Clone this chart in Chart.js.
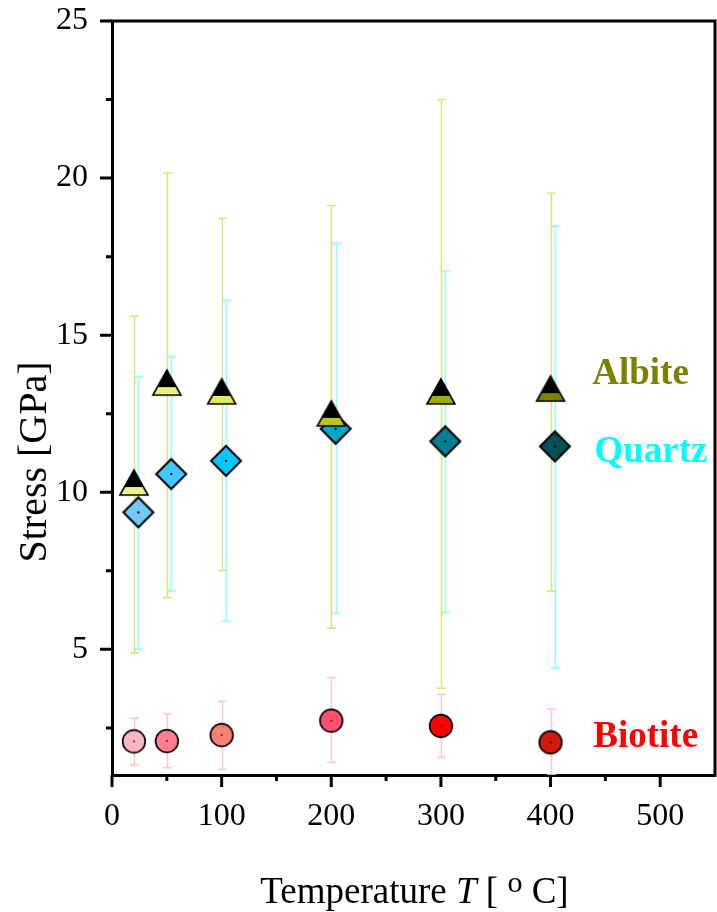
<!DOCTYPE html>
<html>
<head>
<meta charset="utf-8">
<title>Stress vs Temperature</title>
<script src="https://cdn.jsdelivr.net/npm/chart.js@4.4.0/dist/chart.umd.min.js"></script>
<style>
  html, body { margin: 0; padding: 0; background: #ffffff; }
  canvas { display: block; }
</style>
</head>
<body>
<canvas id="chart" width="717" height="912"></canvas>
<script>
// ---- data ----
const albiteT      = [20, 50, 100, 200, 300, 400];
const albiteStress = [10.31, 13.49, 13.21, 12.51, 13.21, 13.30];
const albiteLow    = [4.88, 6.65, 7.51, 5.67, 3.76, 6.85];
const albiteHigh   = [15.60, 20.16, 18.71, 19.13, 22.50, 19.52];

const quartzT      = [24, 54, 104, 204, 304, 404];
const quartzStress = [9.36, 10.58, 11.00, 12.02, 11.62, 11.46];
const quartzLow    = [5.00, 6.87, 5.89, 6.14, 6.17, 4.40];
const quartzHigh   = [13.69, 14.32, 16.10, 17.92, 17.03, 18.47];

const biotiteT      = [20, 50, 100, 200, 300, 400];
const biotiteStress = [2.07, 2.08, 2.27, 2.73, 2.56, 2.04];
const biotiteLow    = [1.33, 1.23, 1.18, 1.40, 1.56, 1.01];
const biotiteHigh   = [2.81, 2.95, 3.35, 4.10, 3.56, 3.10];

const albiteColors  = ['#eef08e', '#ebf088', '#e0ec5c', '#b8c81e', '#a0ac0c', '#808000'];
const quartzColors  = ['#72c8f8', '#40c8ff', '#00c8ff', '#00a8c8', '#008090', '#005058'];
const biotiteColors = ['#ffb6c1', '#ff7f91', '#fa8072', '#ff5070', '#ff0000', '#d21a0a'];

const xMajorTicks = [0, 100, 200, 300, 400, 500];
const xMinorTicks = [50, 150, 250, 350, 450];
const yMajorTicks = [5, 10, 15, 20, 25];
const yMinorTicks = [2.5, 7.5, 12.5, 17.5, 22.5];

const SERIF = "'Liberation Serif', 'Times New Roman', serif";

// ---- marker images ----
function triangleMarker(fill) {
  const c = document.createElement('canvas');
  c.width = 32; c.height = 29;
  const g = c.getContext('2d');
  const path = () => { g.beginPath(); g.moveTo(16, 2); g.lineTo(30, 27); g.lineTo(2, 27); g.closePath(); };
  g.save(); path(); g.clip();
  g.fillStyle = '#000000'; g.fillRect(0, 0, 32, 19);
  g.fillStyle = fill; g.fillRect(0, 19, 32, 10);
  g.restore();
  path(); g.lineWidth = 1.6; g.lineJoin = 'miter'; g.strokeStyle = '#000000'; g.stroke();
  return c;
}
function diamondMarker(fill) {
  const c = document.createElement('canvas');
  c.width = 34; c.height = 34;
  const g = c.getContext('2d');
  g.beginPath(); g.moveTo(17, 2); g.lineTo(32, 17); g.lineTo(17, 32); g.lineTo(2, 17); g.closePath();
  g.fillStyle = fill; g.fill();
  g.lineWidth = 2; g.strokeStyle = '#000000'; g.stroke();
  g.fillStyle = '#000000'; g.fillRect(16, 16, 2, 2);
  return c;
}
function circleMarker(fill) {
  const c = document.createElement('canvas');
  c.width = 28; c.height = 28;
  const g = c.getContext('2d');
  g.beginPath(); g.arc(14, 14, 11.3, 0, Math.PI * 2);
  g.fillStyle = fill; g.fill();
  g.lineWidth = 1.7; g.strokeStyle = '#000000'; g.stroke();
  g.fillStyle = '#000000'; g.fillRect(13.25, 13.25, 1.5, 1.5);
  return c;
}

function points(xs, ys, lows, highs) {
  return xs.map((x, i) => ({ x: x, y: ys[i], low: lows[i], high: highs[i] }));
}

// ---- plugins ----
const errorBars = {
  id: 'errorBars',
  beforeDatasetsDraw(chart) {
    const ctx = chart.ctx, xs = chart.scales.x, ys = chart.scales.y;
    const area = chart.chartArea;
    ctx.save();
    ctx.beginPath();
    ctx.rect(area.left, area.top, area.right - area.left, area.bottom - area.top);
    ctx.clip();
    // quartz first, then albite, then biotite
    [1, 0, 2].forEach(di => {
      const ds = chart.data.datasets[di];
      ctx.strokeStyle = ds.errorColor;
      ctx.lineWidth = ds.errorWidth;
      ds.data.forEach(p => {
        const px = Math.round(xs.getPixelForValue(p.x)) + 0.5;
        const top = ys.getPixelForValue(p.high);
        const bot = ys.getPixelForValue(p.low);
        ctx.beginPath();
        ctx.moveTo(px, top); ctx.lineTo(px, bot);
        ctx.moveTo(px - 4.5, top); ctx.lineTo(px + 4.5, top);
        ctx.moveTo(px - 4.5, bot); ctx.lineTo(px + 4.5, bot);
        ctx.stroke();
      });
    });
    ctx.restore();
  }
};

const frameAndText = {
  id: 'frameAndText',
  afterDraw(chart) {
    const ctx = chart.ctx, xs = chart.scales.x, ys = chart.scales.y;
    const a = chart.chartArea;
    ctx.save();
    ctx.strokeStyle = '#000000';
    ctx.lineWidth = 3;
    // top and right frame lines
    ctx.beginPath();
    ctx.moveTo(a.left - 1.5, a.top); ctx.lineTo(a.right + 1.5, a.top);
    ctx.moveTo(a.right, a.top); ctx.lineTo(a.right, a.bottom + 1.5);
    ctx.stroke();
    // tick marks (outward)
    ctx.beginPath();
    xMajorTicks.forEach(v => { const p = xs.getPixelForValue(v); ctx.moveTo(p, a.bottom); ctx.lineTo(p, a.bottom + 12); });
    xMinorTicks.forEach(v => { const p = xs.getPixelForValue(v); ctx.moveTo(p, a.bottom); ctx.lineTo(p, a.bottom + 6); });
    yMajorTicks.forEach(v => { const p = ys.getPixelForValue(v); ctx.moveTo(a.left, p); ctx.lineTo(a.left - 12, p); });
    yMinorTicks.forEach(v => { const p = ys.getPixelForValue(v); ctx.moveTo(a.left, p); ctx.lineTo(a.left - 6, p); });
    ctx.stroke();

    // series names
    ctx.font = 'bold 37px ' + SERIF;
    ctx.textAlign = 'left';
    ctx.textBaseline = 'alphabetic';
    const names = [
      { text: 'Albite',  color: '#808000', x: 438, y: 13.46 },
      { text: 'Quartz',  color: '#00ffff', x: 440, y: 10.96 },
      { text: 'Biotite', color: '#ff0000', x: 439, y: 1.89 }
    ];
    names.forEach(n => {
      ctx.fillStyle = n.color;
      ctx.fillText(n.text, xs.getPixelForValue(n.x), ys.getPixelForValue(n.y));
    });

    // axis titles
    ctx.fillStyle = '#000000';
    const big = '37px ' + SERIF, ital = 'italic 37px ' + SERIF, sup = '30px ' + SERIF;
    const parts = [
      { t: 'Temperature ', f: big, dy: 0 },
      { t: 'T', f: ital, dy: 0 },
      { t: ' [ ', f: big, dy: 0 },
      { t: 'o', f: sup, dy: -11 },
      { t: ' C]', f: big, dy: 0 }
    ];
    let total = 0;
    parts.forEach(p => { ctx.font = p.f; p.w = ctx.measureText(p.t).width; total += p.w; });
    let x = (a.left + a.right) / 2 - total / 2 + 1;
    const base = a.bottom + 128;
    parts.forEach(p => { ctx.font = p.f; ctx.fillText(p.t, x, base + p.dy); x += p.w; });

    ctx.save();
    ctx.translate(46, (a.top + a.bottom) / 2 + 64);
    ctx.rotate(-Math.PI / 2);
    ctx.font = '40px ' + SERIF;
    ctx.textAlign = 'center';
    ctx.fillText('Stress [GPa]', 0, 0);
    ctx.restore();
    ctx.restore();
  }
};

// ---- chart ----
new Chart(document.getElementById('chart'), {
  type: 'scatter',
  data: {
    datasets: [
      {
        label: 'Albite',
        data: points(albiteT, albiteStress, albiteLow, albiteHigh),
        pointStyle: albiteColors.map(triangleMarker),
        errorColor: 'rgba(214, 214, 80, 0.75)',
        errorWidth: 1.5
      },
      {
        label: 'Quartz',
        data: points(quartzT, quartzStress, quartzLow, quartzHigh),
        pointStyle: quartzColors.map(diamondMarker),
        errorColor: 'rgba(120, 255, 255, 0.8)',
        errorWidth: 1.7
      },
      {
        label: 'Biotite',
        data: points(biotiteT, biotiteStress, biotiteLow, biotiteHigh),
        pointStyle: biotiteColors.map(circleMarker),
        errorColor: 'rgba(255, 190, 190, 0.85)',
        errorWidth: 1.5
      }
    ]
  },
  options: {
    responsive: false,
    animation: false,
    events: [],
    layout: { autoPadding: false, padding: { top: 21, right: 2, left: 0, bottom: 0 } },
    plugins: { legend: { display: false }, tooltip: { enabled: false } },
    scales: {
      x: {
        type: 'linear',
        min: 0,
        max: 550,
        afterFit: s => { s.height = 137; s.paddingLeft = 0; s.paddingRight = 0; },
        grid: { display: false, drawTicks: false },
        border: { display: true, color: '#000000', width: 3 },
        ticks: {
          stepSize: 50,
          autoSkip: false,
          maxRotation: 0,
          padding: 22,
          color: '#000000',
          font: { family: SERIF, size: 32 },
          callback: v => (v % 100 === 0 && v <= 500) ? String(v) : ''
        }
      },
      y: {
        type: 'linear',
        min: 1,
        max: 25,
        afterFit: s => { s.width = 112; s.paddingTop = 0; s.paddingBottom = 0; },
        grid: { display: false, drawTicks: false },
        border: { display: true, color: '#000000', width: 3 },
        ticks: {
          stepSize: 5,
          autoSkip: false,
          padding: 24,
          color: '#000000',
          font: { family: SERIF, size: 32 },
          callback: v => (v % 5 === 0) ? String(v) : ''
        }
      }
    }
  },
  plugins: [errorBars, frameAndText]
});
</script>
</body>
</html>
